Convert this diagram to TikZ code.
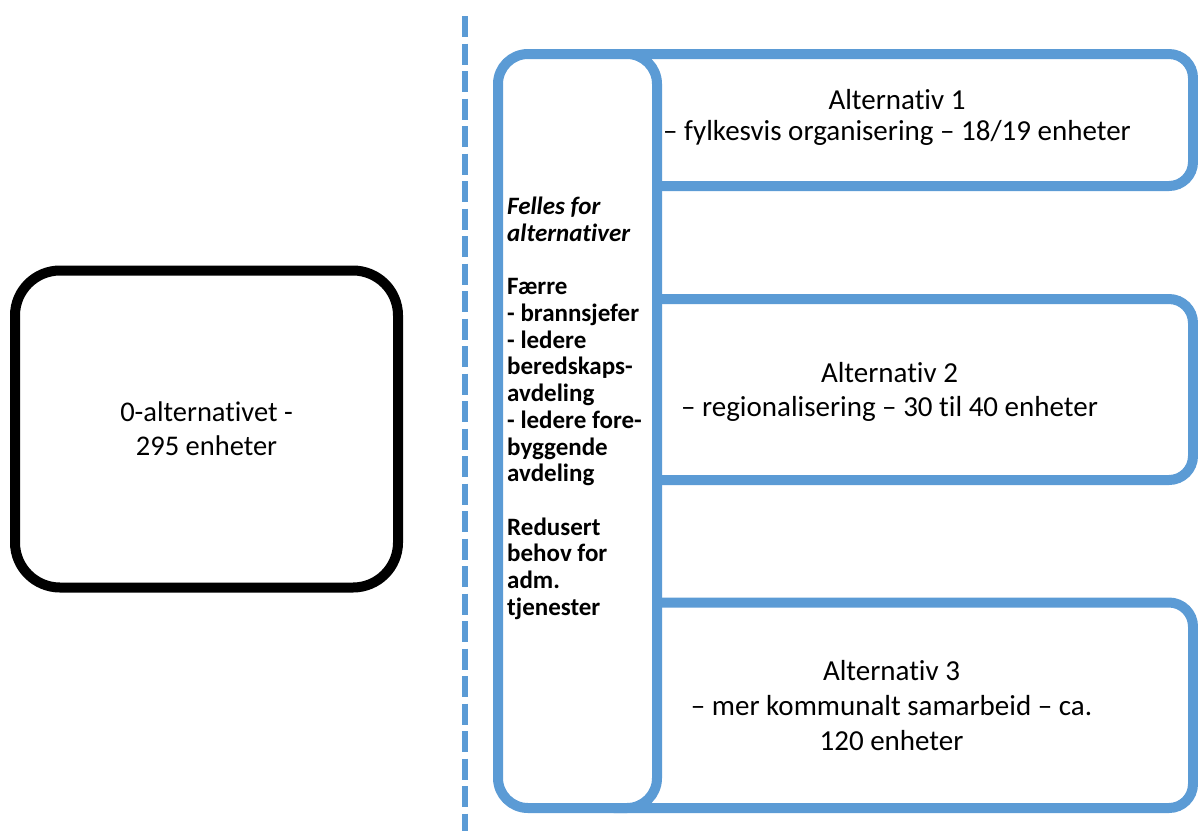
\documentclass[tikz,border=0pt]{standalone}
\usepackage{fontspec}
\setmainfont{Carlito}[Ligatures=NoCommon]
\definecolor{altblue}{HTML}{5B9BD5}
\begin{document}
\begin{tikzpicture}[x=1pt,y=-1pt,
  zerobox/.style={draw=black, line width=10pt, rounded corners=45pt, fill=white,
    minimum width=383pt, minimum height=317pt, align=center, inner sep=0pt,
    font=\fontsize{28.5}{34}\selectfont},
  altbox/.style={draw=altblue, line width=10pt, rounded corners=24pt, fill=white,
    minimum width=603pt, align=center, inner sep=0pt,
    font=\fontsize{29}{35}\selectfont},
  alttext/.style={align=center, inner sep=0pt, font=\fontsize{29}{31}\selectfont},
  commonbox/.style={draw=altblue, line width=10pt, rounded corners=30pt, fill=white,
    minimum width=159pt, minimum height=754pt, inner sep=0pt},
  commontext/.style={anchor=north west, align=left, inner sep=0pt,
    font=\bfseries\fontsize{25}{26.7}\selectfont},
  divider/.style={draw=altblue, line width=6.5pt, dash pattern=on 21pt off 6.5pt}
]
\useasboundingbox (0,0) rectangle (1198,830);

% dashed separator
\coordinate (dtop) at (465,16);
\coordinate (dbot) at (465,832);
\draw[divider] (dtop) -- (dbot);

% the zero alternative
\node[zerobox] (zero) at (206.5,429) {0-alternativet -\\295 enheter};

% the three alternatives
\node[altbox, minimum height=132pt] (alt1) at (891.5,120) {};
\node[alttext] (alt1text) at (897,117.5)
  {Alternativ 1\\– fylkesvis organisering – 18/19 enheter};
\node[altbox, minimum height=181pt] (alt2) at (891.5,389.5) {};
\node[alttext, font=\fontsize{29}{34}\selectfont] (alt2text) at (889.5,392)
  {Alternativ 2\\– regionalisering – 30 til 40 enheter};
\node[altbox, minimum height=205.5pt] (alt3) at (891.5,705.25)
  {Alternativ 3\\– mer kommunalt samarbeid – ca.\\120 enheter};

% common column drawn over the left ends of the alternatives
\node[commonbox] (common) at (577.5,431) {};
\node[commontext] (commonlist) at (507,197)
  {\textit{Felles for}\\
   \textit{alternativer}\\[26.7pt]
   Færre\\
   - brannsjefer\\
   - ledere\\
   beredskaps-\\
   avdeling\\
   - ledere fore-\\
   byggende\\
   avdeling\\[26.7pt]
   Redusert\\
   behov for\\
   adm.\\
   tjenester};
\end{tikzpicture}
\end{document}
